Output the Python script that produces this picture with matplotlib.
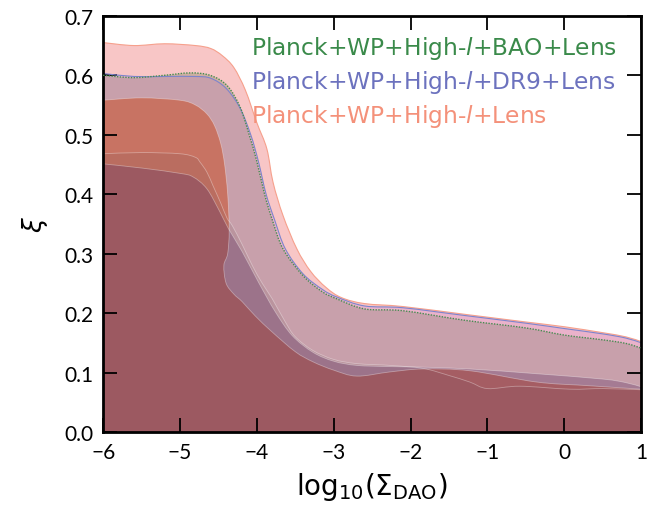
import numpy as np
import matplotlib
matplotlib.use("Agg")
import matplotlib.pyplot as plt
from matplotlib.path import Path
from matplotlib.patches import PathPatch

# ---------------- data ----------------
# Planck+WP+High-l+Lens, 95% upper boundary
r95_x = [-6.0, -5.6, -5.2, -4.8, -4.6, -4.45, -4.3, -4.15, -4.0, -3.87, -3.79, -3.66, -3.48, -3.3, -3.1, -2.9, -2.6, -2.1, -1.3, -0.5, 0.0, 0.5, 0.8, 1.0]
r95_y = [0.655, 0.650, 0.653, 0.650, 0.645, 0.633, 0.613, 0.575, 0.52, 0.476, 0.42, 0.364, 0.308, 0.27, 0.243, 0.226, 0.216, 0.211, 0.198, 0.185, 0.177, 0.167, 0.160, 0.152]
# Planck+WP+High-l+BAO+Lens, 95%
g95_x = [-6.0, -5.6, -5.2, -4.87, -4.61, -4.39, -4.22, -4.1, -4.0, -3.9, -3.8, -3.66, -3.4, -3.15, -2.96, -2.6, -2.1, -1.3, -0.5, 0.0, 0.5, 0.8, 1.0]
g95_y = [0.600, 0.596, 0.600, 0.604, 0.600, 0.583, 0.547, 0.500, 0.455, 0.400, 0.357, 0.308, 0.263, 0.236, 0.224, 0.207, 0.204, 0.188, 0.175, 0.163, 0.155, 0.149, 0.141]
# Planck+WP+High-l+DR9+Lens, 95%
b95_x = [-6.0, -5.6, -5.2, -4.8, -4.6, -4.4, -4.22, -4.08, -3.98, -3.88, -3.77, -3.63, -3.4, -3.15, -2.96, -2.6, -2.1, -1.3, -0.5, 0.0, 0.5, 0.8, 1.0]
b95_y = [0.603, 0.598, 0.598, 0.598, 0.595, 0.578, 0.545, 0.500, 0.455, 0.400, 0.357, 0.308, 0.266, 0.240, 0.227, 0.212, 0.209, 0.196, 0.183, 0.174, 0.165, 0.158, 0.150]
# 68% boundaries
r68_x = [-6.0, -5.5, -5.0, -4.8, -4.65, -4.55, -4.47, -4.42, -4.38, -4.36, -4.38, -4.43, -4.40, -4.30, -4.19, -4.02, -3.80, -3.50, -3.27, -3.0, -2.7, -2.27, -1.84, -1.23, -0.36, 0.3, 1.0]
r68_y = [0.558, 0.562, 0.558, 0.550, 0.535, 0.515, 0.485, 0.450, 0.400, 0.340, 0.300, 0.280, 0.250, 0.232, 0.219, 0.195, 0.168, 0.135, 0.118, 0.104, 0.094, 0.101, 0.106, 0.103, 0.084, 0.078, 0.072]
g68_x = [-6.0, -5.5, -5.0, -4.8, -4.74, -4.65, -4.57, -4.47, -4.39, -4.32, -4.19, -4.06, -3.93, -3.80, -3.63, -3.50, -3.27, -3.0, -2.7, -2.27, -1.84, -1.5, -1.23, -1.0, -0.58, 0.07, 0.5, 1.0]
g68_y = [0.468, 0.470, 0.468, 0.462, 0.454, 0.437, 0.414, 0.385, 0.360, 0.347, 0.315, 0.280, 0.250, 0.224, 0.185, 0.160, 0.137, 0.122, 0.115, 0.112, 0.107, 0.095, 0.084, 0.073, 0.077, 0.072, 0.073, 0.071]
b68_x = [-6.0, -5.5, -5.0, -4.83, -4.65, -4.48, -4.37, -4.19, -3.98, -3.76, -3.54, -3.27, -3.0, -2.7, -2.27, -1.84, -1.23, -0.36, 0.5, 0.8, 1.0]
b68_y = [0.451, 0.444, 0.435, 0.429, 0.409, 0.370, 0.342, 0.303, 0.252, 0.202, 0.162, 0.134, 0.119, 0.112, 0.110, 0.109, 0.106, 0.098, 0.089, 0.083, 0.076]

labels = ["Planck+WP+High-$l$+BAO+Lens", "Planck+WP+High-$l$+DR9+Lens", "Planck+WP+High-$l$+Lens"]
label_colors = ["#3A8A4A", "#6C72BE", "#F4917A"]

x_ticks = [-6, -5, -4, -3, -2, -1, 0, 1]
y_ticks = [0.0, 0.1, 0.2, 0.3, 0.4, 0.5, 0.6, 0.7]

# ---------------- figure ----------------
plt.rcParams['font.family'] = ['Lato', 'DejaVu Sans']
plt.rcParams['mathtext.fontset'] = 'dejavusans'

fig = plt.figure(figsize=(6.57, 5.10), dpi=100)
ax = fig.add_axes([0.157, 0.151, 0.819, 0.816])


def smooth_verts(xs, ys):
    """Catmull-Rom style cubic Bezier path through the given points."""
    P = np.column_stack([xs, ys]).astype(float)
    n = len(P)
    verts = [tuple(P[0])]
    codes = [Path.MOVETO]
    for i in range(n - 1):
        p0 = P[i - 1] if i > 0 else P[i]
        p1 = P[i]
        p2 = P[i + 1]
        p3 = P[i + 2] if i + 2 < n else P[i + 1]
        c1 = p1 + (p2 - p0) / 6.0
        c2 = p2 - (p3 - p1) / 6.0
        verts += [tuple(c1), tuple(c2), tuple(p2)]
        codes += [Path.CURVE4] * 3
    return verts, codes


def fill_under(xs, ys, color, alpha):
    verts, codes = smooth_verts(xs, ys)
    verts = verts + [(xs[-1], 0.0), (xs[0], 0.0), (xs[0], ys[0])]
    codes = codes + [Path.LINETO, Path.LINETO, Path.CLOSEPOLY]
    ax.add_patch(PathPatch(Path(verts, codes), facecolor=color, alpha=alpha,
                           lw=0, zorder=1))


def edge(xs, ys, **kw):
    verts, codes = smooth_verts(xs, ys)
    ax.add_patch(PathPatch(Path(verts, codes), fill=False, **kw))


def rgb(r, g, b):
    return (r / 255, g / 255, b / 255)

fill_under(r95_x, r95_y, rgb(238, 113, 113), 0.40)
fill_under(g95_x, g95_y, rgb(110, 125, 75), 0.30)
fill_under(b95_x, b95_y, rgb(180, 100, 220), 0.20)
fill_under(r68_x, r68_y, rgb(200, 78, 40), 0.55)
fill_under(g68_x, g68_y, rgb(110, 80, 85), 0.15)
fill_under(b68_x, b68_y, rgb(95, 50, 100), 0.33)

# contour edges
edge(r95_x, r95_y, edgecolor=rgb(246, 160, 140), lw=0.8, zorder=2)
edge(b95_x, b95_y, edgecolor=rgb(125, 132, 205), lw=0.8, zorder=2)
edge(g95_x, g95_y, edgecolor=rgb(70, 140, 80), lw=1.0, ls=(0, (1, 1)), zorder=3)
for xs, ys in [(g68_x, g68_y), (b68_x, b68_y), (r68_x, r68_y)]:
    edge(xs, ys, edgecolor='white', lw=0.6, alpha=0.35, zorder=2)

ax.set_xlim(-6, 1)
ax.set_ylim(0, 0.7)
ax.set_xticks(x_ticks)
ax.set_yticks(y_ticks)
ax.set_xticklabels([("\u2212%d" % -t) if t < 0 else "%d" % t for t in x_ticks])
ax.set_yticklabels(["%.1f" % t for t in y_ticks])
ax.tick_params(direction='in', length=10, width=1.3, top=True, right=True,
               labelsize=15, pad=7)
for s in ax.spines.values():
    s.set_linewidth(2.0)

ax.set_xlabel(r"$\mathrm{log}_{10}(\Sigma_{\mathrm{DAO}})$", fontsize=20, labelpad=6)
ax.set_ylabel(r"$\xi$", fontsize=19, labelpad=10)

for i, (t, c) in enumerate(zip(labels, label_colors)):
    ax.text(0.275, 0.925 - i * 0.082, t, color=c, fontsize=16.8,
            family=['DejaVu Sans'],
            transform=ax.transAxes, ha='left', va='center', zorder=5)

fig.savefig("out.png", dpi=100)
